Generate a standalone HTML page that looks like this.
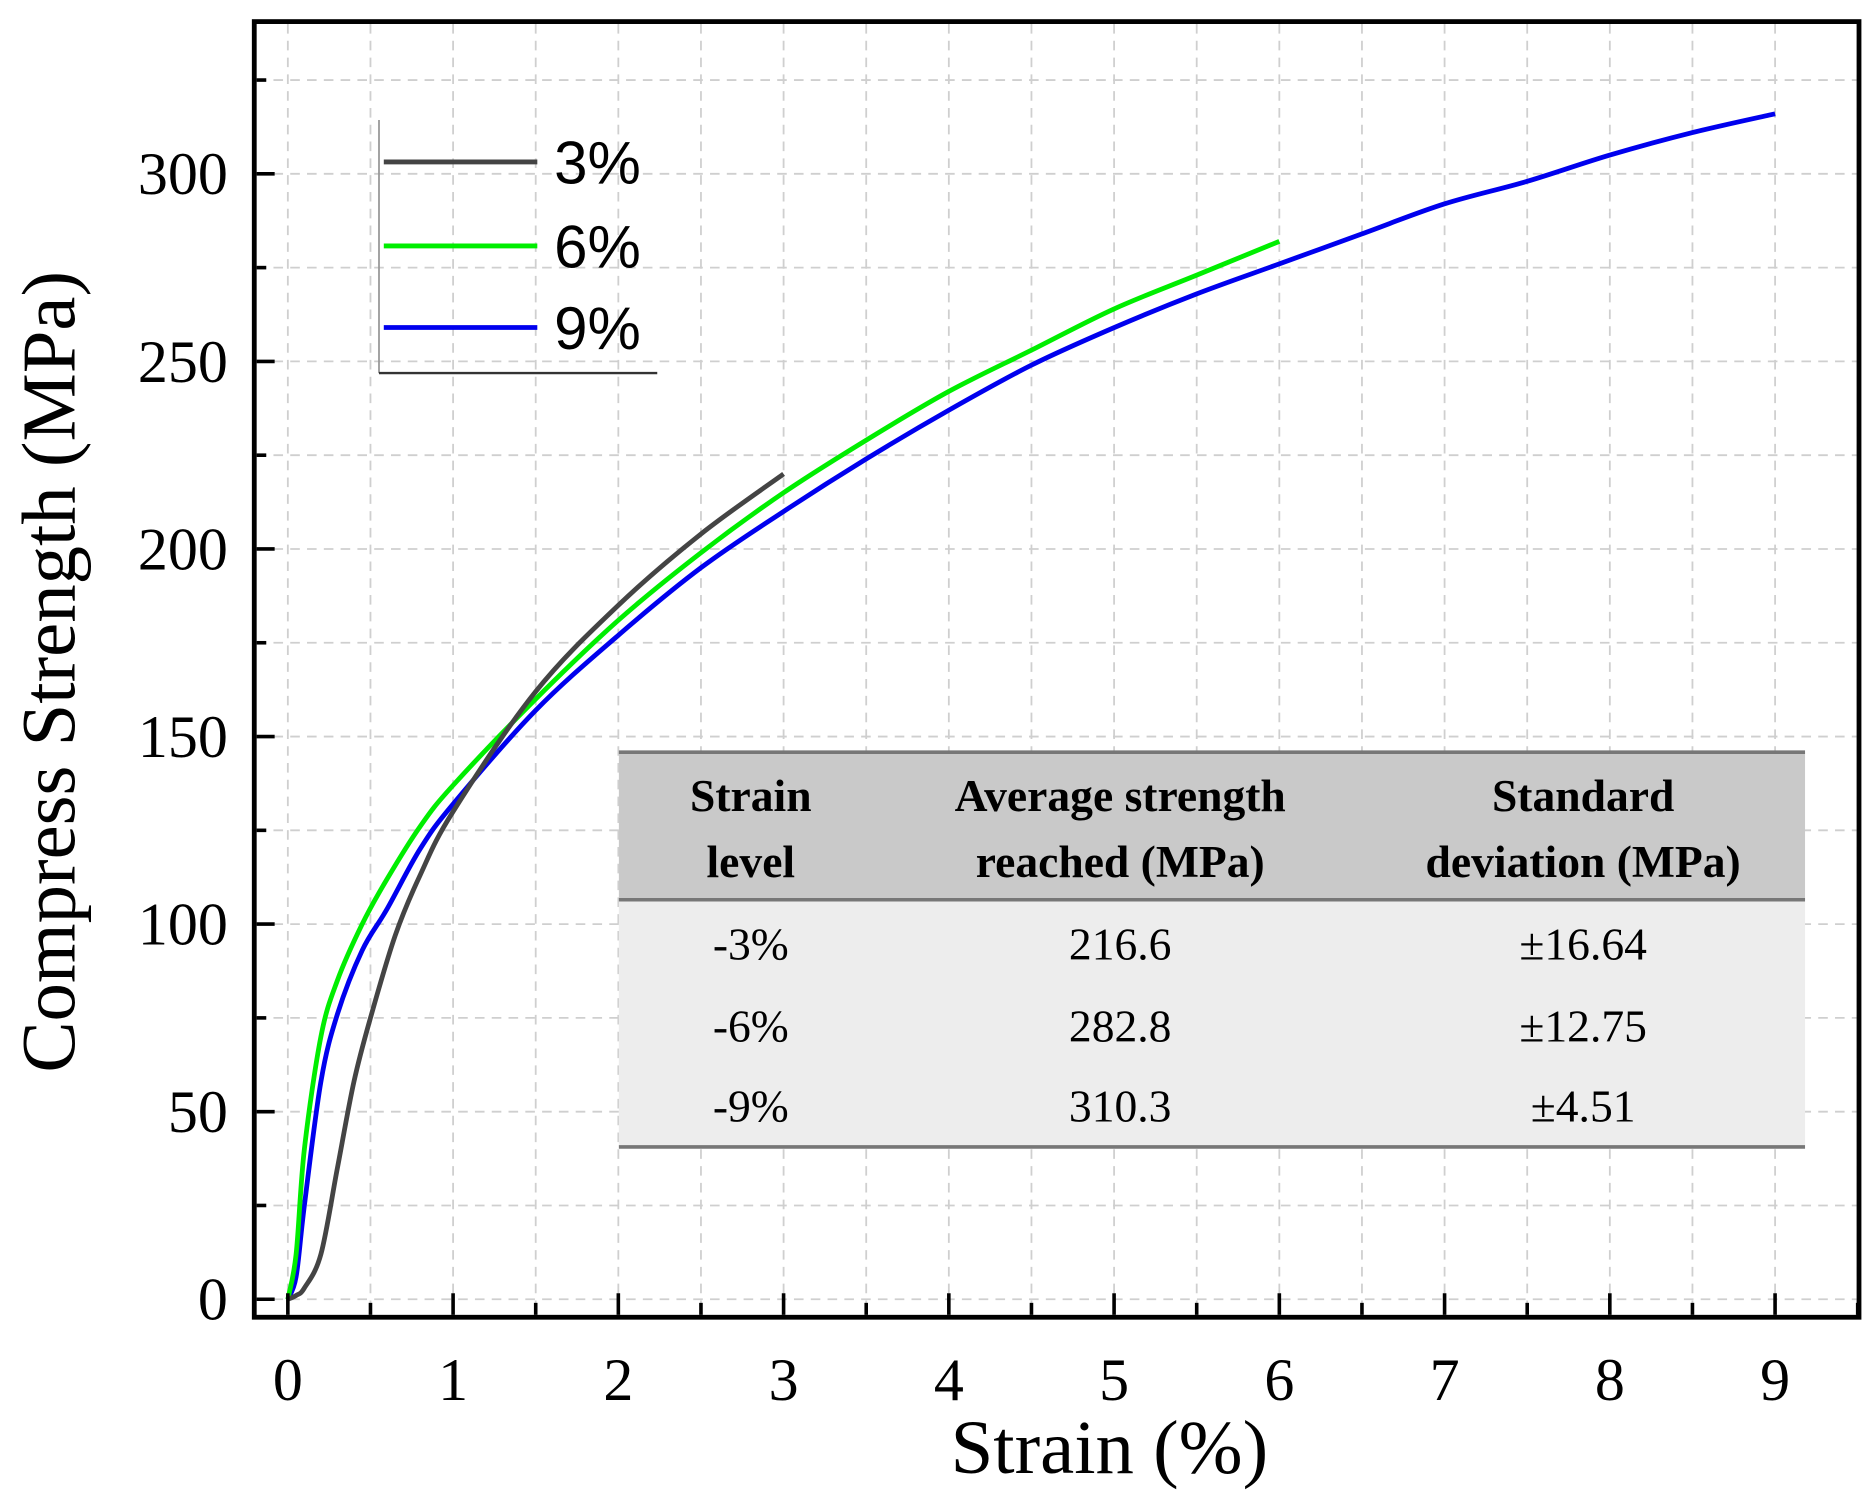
<!DOCTYPE html>
<html><head><meta charset="utf-8"><style>
html,body{margin:0;padding:0;background:#fff;}
svg{display:block;}
.tick{font-family:"Liberation Serif",serif;font-size:50px;fill:#000;}
</style></head><body>
<svg id="chart" width="1871" height="1490" viewBox="0 0 1560 1242" preserveAspectRatio="none" xmlns="http://www.w3.org/2000/svg">
<g id="grid"></g>
<g id="curves"></g>
<rect x="212" y="18" width="1338" height="1080" fill="none" stroke="#000" stroke-width="4"/>
<g id="ticks"></g>
<g id="legend">
<line x1="316" y1="100" x2="316" y2="311" stroke="#999" stroke-width="1.5"/>
<line x1="316" y1="311" x2="548" y2="311" stroke="#333" stroke-width="2"/>
<line x1="320" y1="135" x2="448" y2="135" stroke="#444" stroke-width="4"/>
<text x="462" y="153" font-family="Liberation Sans,sans-serif" font-size="50">3%</text>
<line x1="320" y1="205" x2="448" y2="205" stroke="#00ee00" stroke-width="4"/>
<text x="462" y="223" font-family="Liberation Sans,sans-serif" font-size="50">6%</text>
<line x1="320" y1="273" x2="448" y2="273" stroke="#0000ee" stroke-width="4"/>
<text x="462" y="291" font-family="Liberation Sans,sans-serif" font-size="50">9%</text>
</g>
<g id="table" font-family="Liberation Serif,serif" font-size="38" text-anchor="middle">
<rect x="516" y="627" width="989" height="123" fill="#c9c9c9"/>
<rect x="516" y="750" width="989" height="206" fill="#ededed"/>
<line x1="516" y1="627" x2="1505" y2="627" stroke="#777" stroke-width="3"/>
<line x1="516" y1="750" x2="1505" y2="750" stroke="#777" stroke-width="3"/>
<line x1="516" y1="956" x2="1505" y2="956" stroke="#777" stroke-width="3"/>
<g font-weight="bold">
<text x="626" y="676">Strain</text>
<text x="626" y="731">level</text>
<text x="934" y="676">Average strength</text>
<text x="934" y="731">reached (MPa)</text>
<text x="1320" y="676">Standard</text>
<text x="1320" y="731">deviation (MPa)</text>
</g>
<text x="626" y="800">-3%</text><text x="934" y="800">216.6</text><text x="1320" y="800">±16.64</text>
<text x="626" y="868">-6%</text><text x="934" y="868">282.8</text><text x="1320" y="868">±12.75</text>
<text x="626" y="935">-9%</text><text x="934" y="935">310.3</text><text x="1320" y="935">±4.51</text>
</g>
<text x="925" y="1228" text-anchor="middle" font-family="Liberation Serif,serif" font-size="64">Strain (%)</text>
<text transform="translate(62,560) rotate(-90)" text-anchor="middle" font-family="Liberation Serif,serif" font-size="64">Compress Strength (MPa)</text>
</svg>
<script>
const xTicks=[0,1,2,3,4,5,6,7,8,9];
const yTicks=[0,50,100,150,200,250,300];
const x3=[0,0.05,0.1,0.2,0.3,0.4,0.5,0.65,0.8,1,1.5,2,2.5,3];
const y3=[0,1,3,12,35,58,75,97,113,130,162,185,204,220];
const x6=[0,0.05,0.1,0.2,0.3,0.45,0.6,0.8,1,1.5,2,2.5,3,3.5,4,4.5,5,5.5,6];
const y6=[0,12,40,70,85,100,112,126,137,160,181,199,215,229,242,253,264,273,282];
const x9=[0,0.05,0.1,0.2,0.3,0.45,0.6,0.8,1,1.5,2,2.5,3,3.5,4,4.5,5,5.5,6,6.5,7,7.5,8,8.5,9];
const y9=[0,6,25,58,76,93,104,120,132,157,177,195,210,224,237,249,259,268,276,284,292,298,305,311,316];
const NS='http://www.w3.org/2000/svg';
const X=v=>240+v*137.78, Y=v=>1083-v*3.127;
function mk(tag,attrs,parent){const e=document.createElementNS(NS,tag);for(const k in attrs)e.setAttribute(k,attrs[k]);parent.appendChild(e);return e;}
const grid=document.getElementById('grid'),ticks=document.getElementById('ticks'),curves=document.getElementById('curves');
for(let v=0;v<=9.5;v+=0.5){const l=mk('line',{x1:X(v),x2:X(v),y1:20,y2:1096,stroke:'#cfcfcf','stroke-width':1.5,'stroke-dasharray':'8 6'},grid);


const major=Number.isInteger(v);const t=mk('line',{x1:X(v),x2:X(v),y1:1096,y2:major?1078:1086,stroke:'#000','stroke-width':3},ticks);

}
for(let v=0;v<=325;v+=25){const l=mk('line',{x1:214,x2:1548,y1:Y(v),y2:Y(v),stroke:'#cfcfcf','stroke-width':1.5,'stroke-dasharray':'8 6'},grid);


const major=v%50===0;const t=mk('line',{x1:214,x2:major?229:222,y1:Y(v),y2:Y(v),stroke:'#000','stroke-width':3},ticks);

}
xTicks.forEach(v=>{const t=mk('text',{x:X(v),y:1167,'text-anchor':'middle',class:'tick'},ticks);t.textContent=v;

});
yTicks.forEach(v=>{const t=mk('text',{x:190,y:Y(v)+17,'text-anchor':'end',class:'tick'},ticks);t.textContent=v;

});
function path(xs,ys){const p=xs.map((x,i)=>[X(x),Y(ys[i])]);let d='M'+p[0][0]+','+p[0][1];
for(let i=0;i<p.length-1;i++){const p0=p[i-1]||p[i],p1=p[i],p2=p[i+1],p3=p[i+2]||p2;
d+=' C'+(p1[0]+(p2[0]-p0[0])/6)+','+(p1[1]+(p2[1]-p0[1])/6)+' '+(p2[0]-(p3[0]-p1[0])/6)+','+(p2[1]-(p3[1]-p1[1])/6)+' '+p2[0]+','+p2[1];}return d;}
[[x9,y9,'#0000ee','curve-9'],[x6,y6,'#00ee00','curve-6'],[x3,y3,'#444','curve-3']].forEach(s=>{
const e=mk('path',{d:path(s[0],s[1]),fill:'none',stroke:s[2],'stroke-width':4},curves);

});
</script>
</body></html>
